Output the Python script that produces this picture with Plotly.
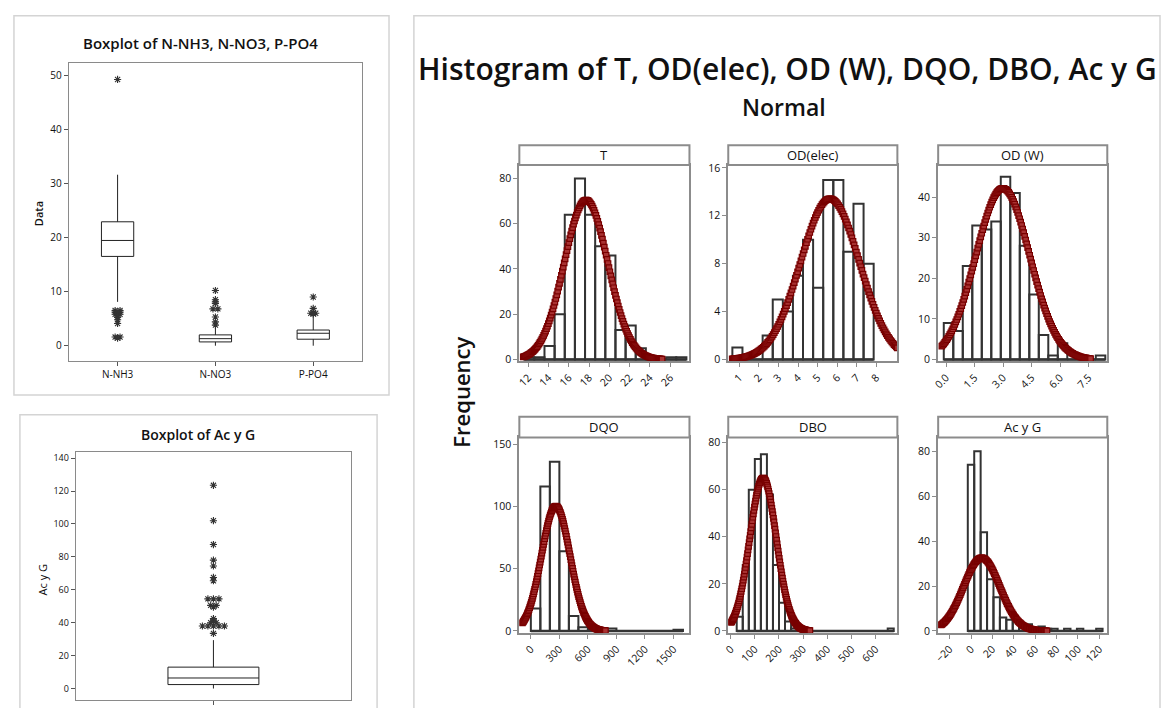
import numpy as np
import plotly.graph_objects as go

W, H = 1163, 708
FONT = "Open Sans, Noto Sans, sans-serif"

# ---------------- Boxplot of N-NH3, N-NO3, P-PO4 ----------------
nut_names = ["N-NH3", "N-NO3", "P-PO4"]
nut_q1 = [16.5, 0.7, 1.2]
nut_median = [19.45, 1.3, 2.3]
nut_q3 = [22.9, 2.0, 2.9]
nut_low = [8.1, 0.0, 0.0]
nut_high = [31.6, 3.4, 5.6]
nnh3_outliers = [49.2, 6.5, 6.5, 6.2, 6.2, 6.0, 5.8, 5.8, 5.5, 5.2, 4.8, 4.1, 1.6, 1.6, 1.4]
nno3_outliers = [10.2, 8.5, 8.1, 7.8, 6.8, 6.8, 5.3, 4.4, 3.8]
ppo4_outliers = [9.0, 6.9, 6.1, 6.0, 6.0, 5.9]

# ---------------- Boxplot of Ac y G ----------------
acyg_q1, acyg_median, acyg_q3 = 2.4, 6.4, 13.0
acyg_low, acyg_high = 0.0, 29.4
acyg_outliers = [123.5, 102, 87.5, 78, 74.5, 67.5, 65.5, 54.5, 54.5, 54.5,
                 50.5, 50.5, 49.5, 42.5, 41, 40, 40, 38, 38, 38, 38, 38, 33.5]

# ---------------- Histograms with fitted normal curves ----------------
hist_names = ["T", "OD(elec)", "OD (W)", "DQO", "DBO", "Ac y G"]
bin_start = [11.6, 0.65, -0.125, 0, 25, -3]
bin_width = [1.0, 0.515, 0.5, 100, 25, 6]
counts_T = [1, 1, 6, 20, 64, 80, 64, 50, 46, 13, 15, 5, 1, 0, 1, 1]
counts_ODelec = [1, 0, 0, 2, 5, 4, 7, 10, 6, 15, 15, 9, 13, 8]
counts_ODW = [9, 7, 23, 33, 32, 34, 45, 41, 28, 16, 6, 1, 4, 0, 0, 0, 1]
counts_DQO = [18, 116, 136, 64, 12, 3, 1, 0, 2, 0, 0, 0, 0, 0, 0, 1]
counts_DBO = [6, 28, 60, 73, 75, 58, 28, 12, 4, 1, 1, 1, 0, 0, 0, 0, 0, 0, 0, 0, 0, 0, 0, 0, 0, 1]
counts_AcyG = [74, 80, 44, 23, 15, 6, 5, 5, 3, 3, 0, 2, 1, 1, 0, 1, 0, 1, 0, 0, 1]
hist_counts = [counts_T, counts_ODelec, counts_ODW, counts_DQO, counts_DBO, counts_AcyG]

fit_mean = [17.7, 5.63, 2.98, 262, 134, 10]
fit_sd = [2.15, 1.5, 1.42, 150, 55, 17]
fit_n = [380, 98, 300, 377, 358, 231]
curve_lo = [11.5, 0.64, -0.23, -89, 2, -28]
curve_hi = [25.2, 9.07, 7.6, 784, 328, 71]

x_ranges = [[11.12, 27.9], [0.44, 9.07], [-0.42, 8.48], [-121, 1668], [-10, 690], [-30.7, 127.4]]
y_tops = [86, 16.25, 47.9, 155.5, 82.2, 86.2]
x_ticks = [list(range(12, 27, 2)), list(range(1, 9)), [0.0, 1.5, 3.0, 4.5, 6.0, 7.5],
           [0, 300, 600, 900, 1200, 1500], list(range(0, 601, 100)), list(range(-20, 121, 20))]
x_ticktext = [None, None, ["0.0", "1.5", "3.0", "4.5", "6.0", "7.5"], None, None, None]
y_ticks = [[0, 20, 40, 60, 80], [0, 4, 8, 12, 16], [0, 10, 20, 30, 40],
           [0, 50, 100, 150], [0, 20, 40, 60, 80], [0, 20, 40, 60, 80]]


def xdom(a, b):
    return [a / W, b / W]


def ydom(top, bottom):
    return [1 - bottom / H, 1 - top / H]


fig = go.Figure()
shapes = []
annotations = []
layout = {}

# outer panel frames
for (x0, y0, x1, y1) in [(8, 12, 385, 396), (14, 416, 373, 716), (410, 12, 1160, 716)]:
    shapes.append(dict(type="rect", xref="paper", yref="paper", x0=x0 / W, x1=x1 / W,
                       y0=1 - y1 / H, y1=1 - y0 / H, line=dict(color="#d4d4d4", width=1.5),
                       layer="below"))

OUT_MARK = dict(symbol="asterisk-open", size=6, line=dict(color="#333333", width=1.1), color="#333333")


def spread(values, center, step):
    """Place tied outliers side by side around the category center."""
    xs, ys = [], []
    uniq = []
    for v in values:
        if v not in uniq:
            uniq.append(v)
    for v in uniq:
        m = values.count(v)
        for k in range(m):
            xs.append(center + (k - (m - 1) / 2) * step)
            ys.append(v)
    return xs, ys


# ---- boxplot 1 ----
for i, name in enumerate(nut_names):
    fig.add_trace(go.Box(x=[i], q1=[nut_q1[i]], median=[nut_median[i]], q3=[nut_q3[i]],
                         lowerfence=[nut_low[i]], upperfence=[nut_high[i]], width=0.33,
                         whiskerwidth=0, boxpoints=False, fillcolor="white",
                         line=dict(color="#222222", width=1), xaxis="x", yaxis="y",
                         showlegend=False, hoverinfo="skip"))
for i, outs in enumerate([nnh3_outliers, nno3_outliers, ppo4_outliers]):
    xs, ys = spread(outs, i, 0.05)
    fig.add_trace(go.Scatter(x=xs, y=ys, mode="markers", marker=OUT_MARK, xaxis="x", yaxis="y",
                             showlegend=False, hoverinfo="skip"))

axis_box = dict(showgrid=False, zeroline=False, showline=True, mirror=True, linecolor="#8a8a8a",
                linewidth=1, ticks="outside", ticklen=4, tickcolor="#555555",
                tickfont=dict(family=FONT, size=10, color="#111111"))
layout["xaxis"] = dict(axis_box, domain=xdom(63, 358), range=[-0.5, 2.5], tickvals=[0, 1, 2],
                       ticktext=nut_names, anchor="y")
layout["yaxis"] = dict(axis_box, domain=ydom(60, 362), range=[-2.9, 52.2],
                       tickvals=[0, 10, 20, 30, 40, 50], anchor="x")

# ---- boxplot 2 ----
fig.add_trace(go.Box(x=[0], q1=[acyg_q1], median=[acyg_median], q3=[acyg_q3],
                     lowerfence=[acyg_low], upperfence=[acyg_high], width=0.33, whiskerwidth=0,
                     boxpoints=False, fillcolor="white", line=dict(color="#222222", width=1),
                     xaxis="x2", yaxis="y2", showlegend=False, hoverinfo="skip"))
xs, ys = spread(acyg_outliers, 0, 0.02)
fig.add_trace(go.Scatter(x=xs, y=ys, mode="markers", marker=OUT_MARK, xaxis="x2", yaxis="y2",
                         showlegend=False, hoverinfo="skip"))
layout["xaxis2"] = dict(axis_box, domain=xdom(70, 347), range=[-0.5, 0.5], tickvals=[0],
                        ticktext=[""], anchor="y2")
layout["yaxis2"] = dict(axis_box, domain=ydom(454, 705), range=[-7, 143.6],
                        tickvals=list(range(0, 141, 20)), anchor="x2",
                        tickfont=dict(family=FONT, size=9, color="#111111"))

# ---- histogram grid ----
col_px = [(516, 687), (726, 896), (937, 1107)]
row_px = [((143, 163), (163, 362)), ((418, 439), (439, 637))]

for k, name in enumerate(hist_names):
    ax = k + 3
    xa, ya = f"x{ax}", f"y{ax}"
    r, c = divmod(k, 3)
    (s_top, s_bot), (p_top, p_bot) = row_px[r]
    left, right = col_px[c]

    cnt = hist_counts[k]
    bw = bin_width[k]
    edges = bin_start[k] + bw * np.arange(len(cnt) + 1)
    centers = (edges[:-1] + edges[1:]) / 2

    fig.add_trace(go.Bar(x=centers, y=cnt, width=bw, xaxis=xa, yaxis=ya, showlegend=False,
                         marker=dict(color="rgba(255,255,255,0)",
                                     line=dict(color="#333333", width=2)),
                         hoverinfo="skip"))
    fig.add_trace(go.Scatter(x=[edges[0], edges[-1]], y=[0, 0], mode="lines", xaxis=xa, yaxis=ya,
                             line=dict(color="#333333", width=2.5), showlegend=False,
                             hoverinfo="skip"))

    cx = np.linspace(curve_lo[k], curve_hi[k], 150)
    cy = fit_n[k] * bw * np.exp(-0.5 * ((cx - fit_mean[k]) / fit_sd[k]) ** 2) / (fit_sd[k] * np.sqrt(2 * np.pi))
    fig.add_trace(go.Scatter(x=cx, y=cy, mode="lines+markers", xaxis=xa, yaxis=ya,
                             line=dict(color="#8b0000", width=2),
                             marker=dict(symbol="square", size=5.5, color="#a83232",
                                         line=dict(color="#780000", width=1.2)),
                             showlegend=False, hoverinfo="skip"))

    axis_h = dict(showgrid=False, zeroline=False, showline=True, mirror=True, linecolor="#8c8c8c",
                  linewidth=2, ticks="outside", ticklen=4, tickcolor="#8c8c8c",
                  tickfont=dict(family=FONT, size=10.5, color="#111111"))
    xaxis = dict(axis_h, domain=xdom(left, right), range=x_ranges[k], tickvals=x_ticks[k],
                 tickangle=-45, anchor=ya)
    if x_ticktext[k] is not None:
        xaxis["ticktext"] = x_ticktext[k]
    layout[f"xaxis{ax}"] = xaxis
    layout[f"yaxis{ax}"] = dict(axis_h, domain=ydom(p_top, p_bot),
                                range=[-0.01 * y_tops[k], y_tops[k]], tickvals=y_ticks[k],
                                anchor=xa)

    shapes.append(dict(type="rect", xref="paper", yref="paper", x0=left / W, x1=right / W,
                       y0=1 - s_bot / H, y1=1 - s_top / H, fillcolor="white",
                       line=dict(color="#8c8c8c", width=2)))
    annotations.append(dict(text=name, x=(left + right) / 2 / W, y=1 - (s_top + s_bot) / 2 / H,
                            xref="paper", yref="paper", showarrow=False,
                            xanchor="center", yanchor="middle",
                            font=dict(family=FONT, size=13, color="#111111")))


def label(text, x, y, size, angle=0, weight=600):
    annotations.append(dict(text=text, x=x / W, y=1 - y / H, xref="paper", yref="paper",
                            showarrow=False, textangle=angle, xanchor="center", yanchor="middle",
                            font=dict(family=FONT, size=size, color="#111111", weight=weight)))


label("Boxplot of N-NH3, N-NO3, P-PO4", 196, 40, 15)
label("Data", 32, 212, 11, angle=-90)
label("Boxplot of Ac y G", 193, 436, 14)
label("Ac y G", 37, 583, 11, angle=-90, weight=400)
label("Histogram of T, OD(elec), OD (W), DQO, DBO, Ac y G", 786, 65, 30)
label("Normal", 782, 104, 23)
label("Frequency", 457, 393, 22, angle=-90)

fig.update_layout(width=W, height=H, margin=dict(l=0, r=0, t=0, b=0),
                  paper_bgcolor="white", plot_bgcolor="white", showlegend=False,
                  shapes=shapes, annotations=annotations, **layout)

fig.write_html("out.html")
